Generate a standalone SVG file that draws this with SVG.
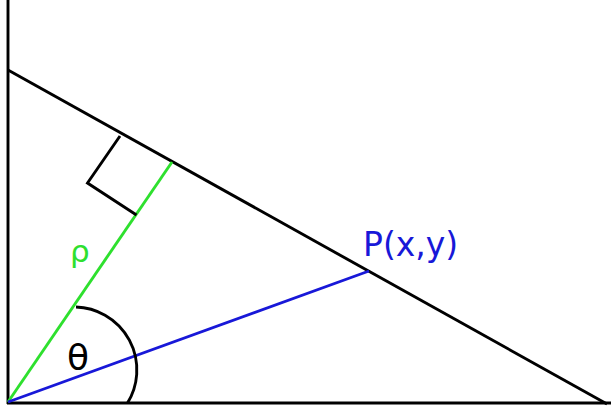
<svg xmlns="http://www.w3.org/2000/svg" width="611" height="407" viewBox="0 0 611 407">
<style>
.k{stroke:#000;stroke-width:2.9;fill:none;stroke-linecap:butt}
.g{stroke:#2ee02e;stroke-width:2.9;fill:none}
.b{stroke:#1818d8;stroke-width:2.9;fill:none}
text{font-family:"DejaVu Sans",sans-serif}
</style>
<rect width="611" height="407" fill="#fff"/>
<g id="connectors">
<line class="k" x1="8" y1="0" x2="8" y2="404"/>
<line class="k" x1="7" y1="403" x2="611" y2="403"/>
<line class="k" x1="8" y1="70" x2="607" y2="404"/>
<line class="g" x1="8" y1="402" x2="172" y2="162"/>
<line class="b" x1="8" y1="402" x2="369" y2="271"/>
<polyline class="k" points="120,136 87.5,183 136.5,215"/>
<path class="k" d="M76,307 A63,63 0 0 1 127.5,403"/>
</g>
<g id="label-rho"><text x="70" y="262" font-size="31" fill="#2ee02e">ρ</text></g>
<g id="label-theta"><text x="67" y="370" font-size="36" fill="#000">θ</text></g>
<g id="label-P"><text x="363" y="256" font-size="33" fill="#1818d8">P(x,y)</text></g>
</svg>
